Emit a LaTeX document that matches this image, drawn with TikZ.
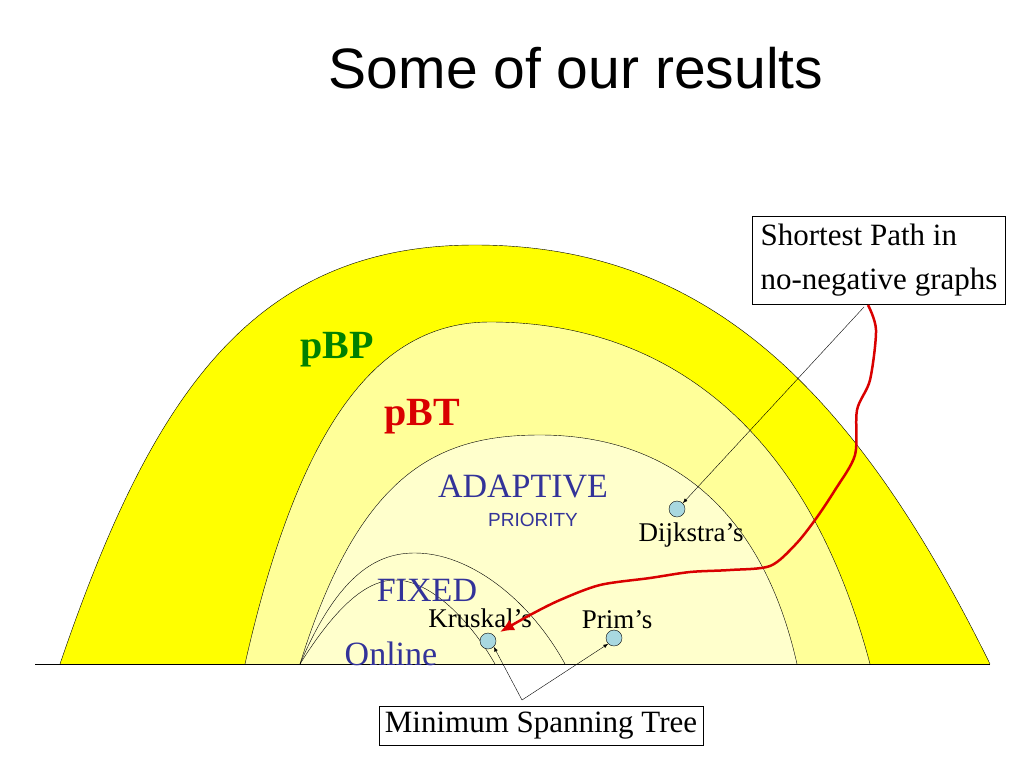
\documentclass[tikz,border=0pt]{standalone}
\usepackage{fontspec}
\setmainfont{Liberation Serif}
\setsansfont{Liberation Sans}
\usetikzlibrary{arrows.meta,positioning}
\definecolor{outery}{HTML}{FFFF00}
\definecolor{midy}{HTML}{FFFF99}
\definecolor{innery}{HTML}{FFFFCC}
\definecolor{algblue}{HTML}{333399}
\definecolor{pbpgreen}{HTML}{008000}
\definecolor{dotblue}{HTML}{A8D8E0}
\newcommand{\fs}[1]{\fontsize{#1}{1.4\dimexpr#1pt\relax}\selectfont}
\begin{document}
\begin{tikzpicture}[x=1pt,y=-1pt,>=Latex]
    \useasboundingbox (0,0) rectangle (1024,768);
    \tikzset{alg/.style={text=algblue, inner sep=0pt},
             algo/.style={inner sep=0pt},
             dot/.style={circle, draw, fill=dotblue, minimum size=16pt, inner sep=0pt},
             note/.style={draw, fill=white, align=left, inner sep=8pt}}
    % Title
    \node (title) at (576,68) {\sffamily\fs{57}Some of our results};

    % Nested regions
    \draw[fill=outery] (60,664) .. controls (150,400) and (250,245) .. (475,245) .. controls (700,245) and (850,380) .. (990,664);
    \draw[fill=midy] (245,664) .. controls (300,420) and (380,322) .. (490,322) .. controls (640,322) and (800,400) .. (870,664);
    \draw[fill=innery] (300,664) .. controls (360,470) and (440,435) .. (540,435) .. controls (660,435) and (760,500) .. (797,664);
    \draw (300,664) .. controls (340,570) and (380,553) .. (415,553) .. controls (470,553) and (530,600) .. (565,664);
    \draw (300,664) .. controls (340,600) and (370,580) .. (395,580) .. controls (430,580) and (470,620) .. (495,664);
    \draw (35,664) -- (990,664);

    % Class labels
    \node[text=pbpgreen] (pbp) at (337,350) {\fs{40}\bfseries pBP};
    \node[text=red!85!black] (pbt) at (422,417) {\fs{40}\bfseries pBT};
    \node[alg] (adaptive) at (523,487) {\fs{34}ADAPTIVE};
    \node[alg] (priority) at (533,520) {\sffamily\fs{19}PRIORITY};
    \node[alg] (fixed) at (427,590) {\fs{34}FIXED};
    \node[alg] (online) at (391,654) {\fs{34}Online};

    % Algorithms
    \node[dot] (dij) at (677,509) {};
    \node[dot] (kru) at (488,641) {};
    \node[dot] (prim) at (614,638) {};
    \node[algo] (dijl) at (691,535) {\fs{27}Dijkstra’s};
    \node[algo] (krul) at (480,618) {\fs{27}Kruskal’s};
    \node[algo] (priml) at (617,620) {\fs{27}Prim’s};

    % Problem boxes
    \node[note, font=\fs{31}] (sp) at (879,260) {Shortest Path in\\no-negative graphs};
    \node[note, inner sep=6pt] (mst) at (541,726) {\fs{31}Minimum Spanning Tree};
    \coordinate (sptip) at (864,307);
    \coordinate (msttip) at (522,700);

    \draw[->] (sptip) -- (dij.north east);
    \draw[->] (msttip) -- (kru.south east);
    \draw[->] (msttip) -- (prim.south west);

    % Reduction path
    \draw[red!85!black, line width=2.5pt, -{Latex[length=14pt,width=12pt]}]
        plot[smooth, tension=0.5] coordinates {(868,305) (876,330) (870,380) (857,410) (855,455) (835,490) (815,520) (795,545) (770,566) (730,570) (690,572) (650,578) (600,585) (560,600) (530,615) (500,632)};
\end{tikzpicture}
\end{document}
